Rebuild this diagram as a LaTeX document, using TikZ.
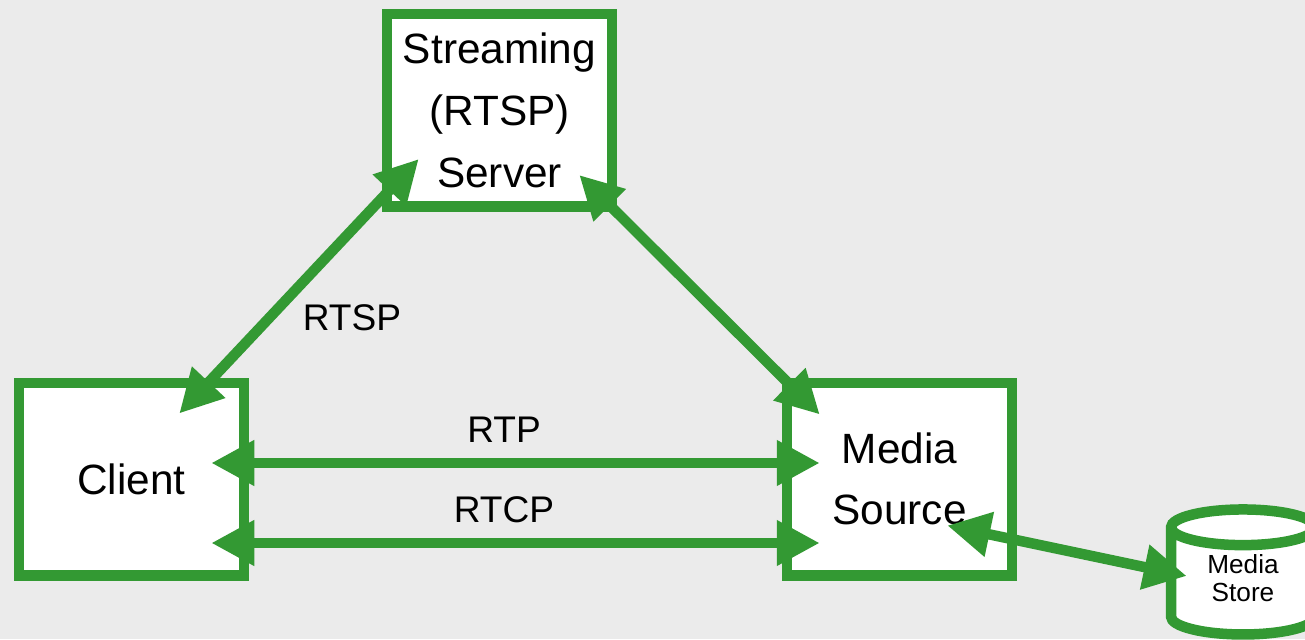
\documentclass[tikz,border=0pt]{standalone}
\usepackage{fontspec}
\setmainfont{Liberation Sans}
\usetikzlibrary{arrows.meta,shapes.geometric,positioning}
\definecolor{bggray}{HTML}{EBEBEB}
\definecolor{linkgreen}{HTML}{339933}

\begin{document}
\begin{tikzpicture}[
  boxnode/.style={rectangle, draw=linkgreen, line width=0.21cm, fill=white, align=center,
		minimum width=4.5cm, minimum height=3.85cm, inner sep=0pt,
		font=\fontsize{24.1}{35.1}\selectfont},
  storenode/.style={cylinder, shape border rotate=90, shape aspect=0.5, draw=linkgreen,
		line width=0.21cm, fill=white, align=center, inner sep=0pt, text depth=0.22cm,
		minimum width=2.88cm, minimum height=2.5cm,
		font=\fontsize{14.9}{15.9}\selectfont},
  tnode/.style={font=\fontsize{21.1}{25}\selectfont},
  link/.style={{Triangle[length=0.86cm,width=0.86cm]}-{Triangle[length=0.86cm,width=0.86cm]},
		draw=linkgreen, line width=0.21cm}]

\fill [bggray] (0,0) rectangle (26.1,12.78);
\useasboundingbox (0,0) rectangle (26.1,12.78);

  \node (server) [boxnode] at (9.99,10.57) {Streaming\\(RTSP)\\Server};
  \node (client) [boxnode] at (2.63,3.2) {Client};
  \node (source) [boxnode] at (17.99,3.2) {Media\\Source};
  \node (store) [storenode] at (24.86,1.11) {Media\\Store};

\draw [link] ([shift={(-1.4,-0.72)}]client.north east) -- ([shift={(0.74,1.06)}]server.south west);
\draw [link] ([shift={(-0.76,0.74)}]server.south east) -- ([shift={(0.76,-0.74)}]source.north west);
\draw [link] ([shift={(-0.76,0.32)}]client.east) -- ([shift={(0.76,0.32)}]source.west);
\draw [link] ([shift={(-0.76,-1.28)}]client.east) -- ([shift={(0.76,-1.28)}]source.west);
\draw [link] ([shift={(-1.4,1.1)}]source.south east) -- ([shift={(0.42,0.15)}]store.west);

\node (rtsp) [tnode] at (7.04,6.42) {RTSP};
\node (rtp) [tnode] at (10.08,4.18) {RTP};
\node (rtcp) [tnode] at (10.08,2.58) {RTCP};

\end{tikzpicture}
\end{document}
